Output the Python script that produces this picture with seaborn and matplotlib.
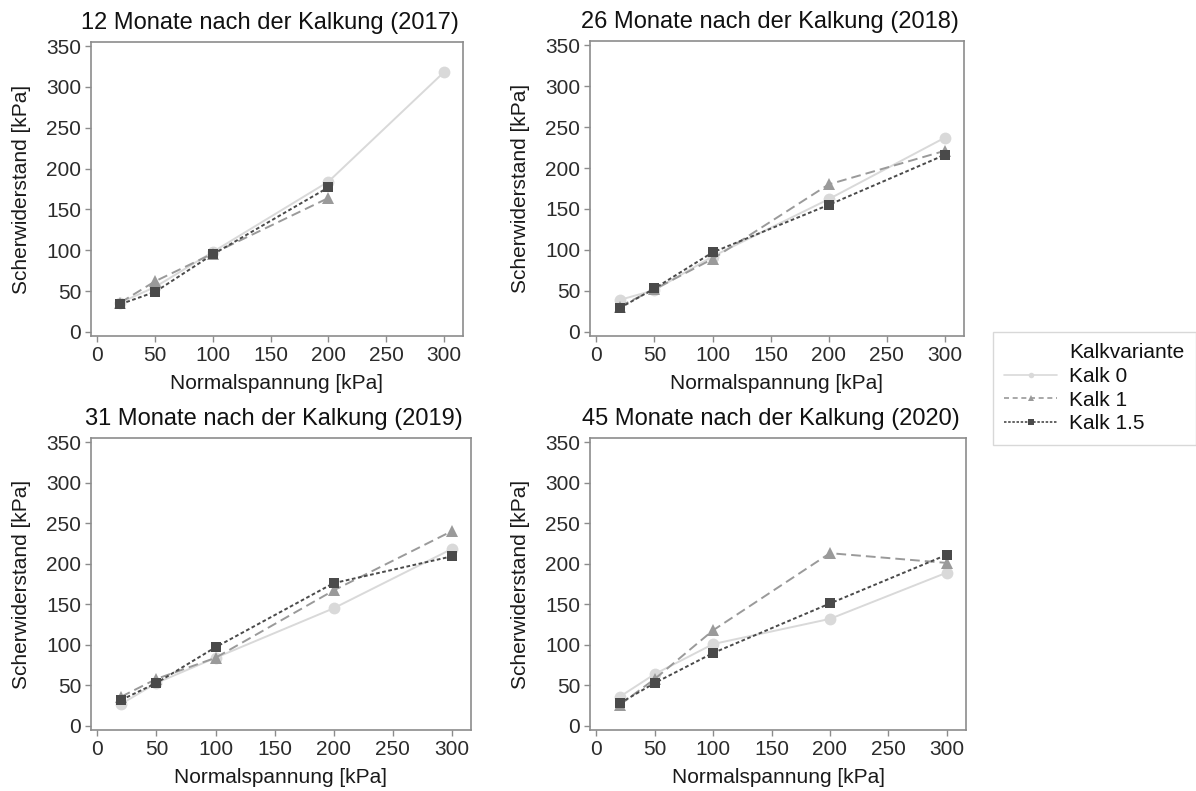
import numpy as np
import pandas as pd
import matplotlib
matplotlib.use("Agg")
import matplotlib.pyplot as plt
from matplotlib.lines import Line2D
import seaborn as sns

# Normal stress levels of the shear tests [kPa]
normalspannung = [20, 50, 100, 200, 300]

# Shear resistance [kPa] per lime variant and sampling date (None = not measured)
kalk0_2017 = [36, 55, 98, 184, 318]
kalk1_2017 = [36, 62, 96, 164, None]
kalk15_2017 = [34, 49, 95, 177, None]

kalk0_2018 = [39, 51, 92, 162, 237]
kalk1_2018 = [31, 52, 89, 180, 221]
kalk15_2018 = [29, 53, 97, 155, 216]

kalk0_2019 = [27, 53, 84, 145, 218]
kalk1_2019 = [36, 58, 84, 167, 240]
kalk15_2019 = [32, 53, 97, 176, 209]

kalk0_2020 = [36, 64, 101, 132, 189]
kalk1_2020 = [26, 58, 118, 213, 201]
kalk15_2020 = [28, 53, 90, 151, 211]

varianten = ["Kalk 0", "Kalk 1", "Kalk 1.5"]
titel = [
    "12 Monate nach der Kalkung (2017)",
    "26 Monate nach der Kalkung (2018)",
    "31 Monate nach der Kalkung (2019)",
    "45 Monate nach der Kalkung (2020)",
]
serien = [
    [kalk0_2017, kalk1_2017, kalk15_2017],
    [kalk0_2018, kalk1_2018, kalk15_2018],
    [kalk0_2019, kalk1_2019, kalk15_2019],
    [kalk0_2020, kalk1_2020, kalk15_2020],
]

# long-format table for seaborn
rows = []
for t, werte in zip(titel, serien):
    for v, ys in zip(varianten, werte):
        for x, y in zip(normalspannung, ys):
            if y is not None:
                rows.append({"Zeitpunkt": t, "Kalkvariante": v,
                             "Normalspannung": x, "Scherwiderstand": y})
df = pd.DataFrame(rows)

sns.set_theme(style="white")
plt.rcParams["font.family"] = ["Liberation Sans", "DejaVu Sans"]

farben = {"Kalk 0": "#d9d9d9", "Kalk 1": "#9a9a9a", "Kalk 1.5": "#4a4a4a"}
marker = {"Kalk 0": "o", "Kalk 1": "^", "Kalk 1.5": "s"}
strich = {"Kalk 0": "", "Kalk 1": (5, 2.6), "Kalk 1.5": (1.9, 1.3)}
msize = {"o": 8.5, "^": 8.0, "s": 7.0}

W, H = 1196, 791
fig = plt.figure(figsize=(W / 100, H / 100), dpi=100)

# panel frames in pixels: left, top, right, bottom
rahmen = [
    (91, 42, 463, 336),
    (590, 41, 964, 336),
    (91, 438, 471, 730),
    (590, 438, 966, 730),
]

spine_col = "#8c8c8c"
text_col = "#2b2b2b"

for (l, t, r, b), tt in zip(rahmen, titel):
    ax = fig.add_axes([l / W, 1 - b / H, (r - l) / W, (b - t) / H])
    sub = df[df["Zeitpunkt"] == tt]
    sns.lineplot(
        data=sub, x="Normalspannung", y="Scherwiderstand",
        hue="Kalkvariante", style="Kalkvariante",
        hue_order=varianten, style_order=varianten,
        palette=farben, markers=marker, dashes=strich,
        linewidth=1.4, markeredgewidth=0, legend=False, ax=ax,
    )
    for ln in ax.lines:
        m = ln.get_marker()
        if m in msize:
            ln.set_markersize(msize[m])

    ax.set_xlim(-5.5, 316.5)
    ax.set_ylim(-5, 355)
    ax.set_xticks([0, 50, 100, 150, 200, 250, 300])
    ax.set_yticks([0, 50, 100, 150, 200, 250, 300, 350])
    ax.tick_params(axis="both", which="major", direction="out", length=4,
                   width=1, color=spine_col, labelsize=15, labelcolor=text_col,
                   pad=3, bottom=True, left=True)
    for s in ax.spines.values():
        s.set_color(spine_col)
        s.set_linewidth(1.2)
    ax.set_xlabel("Normalspannung [kPa]", fontsize=15, color="#1a1a1a", labelpad=7)
    ax.set_ylabel("Scherwiderstand [kPa]", fontsize=15, color="#1a1a1a", labelpad=11)
    ax.set_title(tt, fontsize=17, color="#111111", pad=9, x=0.48)
    ax.grid(False)

# shared legend on the right
handles = [Line2D([], [], color="none", label="Kalkvariante")]
leg_dash = {"Kalk 0": "", "Kalk 1": (3.0, 2.2), "Kalk 1.5": (1.5, 1.0)}
for v in varianten:
    h = Line2D([], [], color=farben[v], marker=marker[v], markersize=4,
               markeredgewidth=0, linewidth=1.2, label=v)
    if leg_dash[v]:
        h.set_dashes(leg_dash[v])
    handles.append(h)

leg = fig.legend(
    handles=handles, loc="upper left",
    bbox_to_anchor=(993 / W, 1 - 332 / H), borderaxespad=0,
    fontsize=15, frameon=True, fancybox=False, handlelength=2.5,
    handletextpad=0.6, labelspacing=0.22, borderpad=0.55,
)
leg.get_frame().set_edgecolor("#cfcfcf")
leg.get_frame().set_linewidth(1.0)
for txt in leg.get_texts():
    txt.set_color("#111111")

fig.savefig("out.png", dpi=100, facecolor="white")
